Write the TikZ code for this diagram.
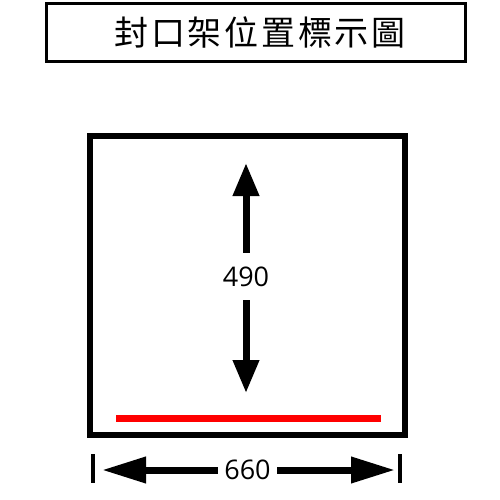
\documentclass[tikz,border=0pt]{standalone}
\usepackage{fontspec}
\setmainfont{Open Sans}
\newfontfamily\cjk[LetterSpace=8]{Noto Sans CJK TC}
\usetikzlibrary{arrows.meta}
\tikzset{
  titlebox/.style={draw, line width=3pt, minimum width=419pt, minimum height=58pt, inner sep=0pt, font=\cjk\fontsize{34}{34}\selectfont},
  framebox/.style={draw, line width=6pt, minimum width=315pt, minimum height=299pt, inner sep=0pt},
  dimlbl/.style={inner sep=0pt, font=\fontsize{27}{27}\selectfont},
  vdim/.style={line width=7pt, -{Triangle[length=33pt,width=25pt]}},
  hdim/.style={line width=7pt, -{Triangle[length=44pt,width=25pt]}},
  tick/.style={line width=4pt},
  redbar/.style={line width=7pt, draw=red}
}
\begin{document}
\begin{tikzpicture}[x=1pt,y=-1pt]
\useasboundingbox (0,0) rectangle (500,500);
\node[titlebox] (title) at (256,32.5) {\hspace*{8pt}封口架位置標示圖};
\node[framebox] (frame) at (247.5,285.5) {};
\node[dimlbl, minimum height=47pt] (vlbl) at (246,276.5) {490};
\coordinate (vtop) at (246,163);
\coordinate (vbot) at (246,393);
\draw[vdim] (vlbl.north) -- (vtop);
\draw[vdim] (vlbl.south) -- (vbot);
\coordinate (rl) at (116,418.5);
\coordinate (rr) at (381,418.5);
\draw[redbar] (rl) -- (rr);
\node[dimlbl, minimum width=59pt] (hlbl) at (247.5,470) {660};
\coordinate (hl) at (102,470);
\coordinate (hr) at (395,470);
\draw[hdim] (hlbl.west) -- (hl);
\draw[hdim] (hlbl.east) -- (hr);
\coordinate (t1a) at (93,454);
\coordinate (t1b) at (93,483);
\coordinate (t2a) at (400,454);
\coordinate (t2b) at (400,483);
\draw[tick] (t1a) -- (t1b);
\draw[tick] (t2a) -- (t2b);
\end{tikzpicture}
\end{document}
